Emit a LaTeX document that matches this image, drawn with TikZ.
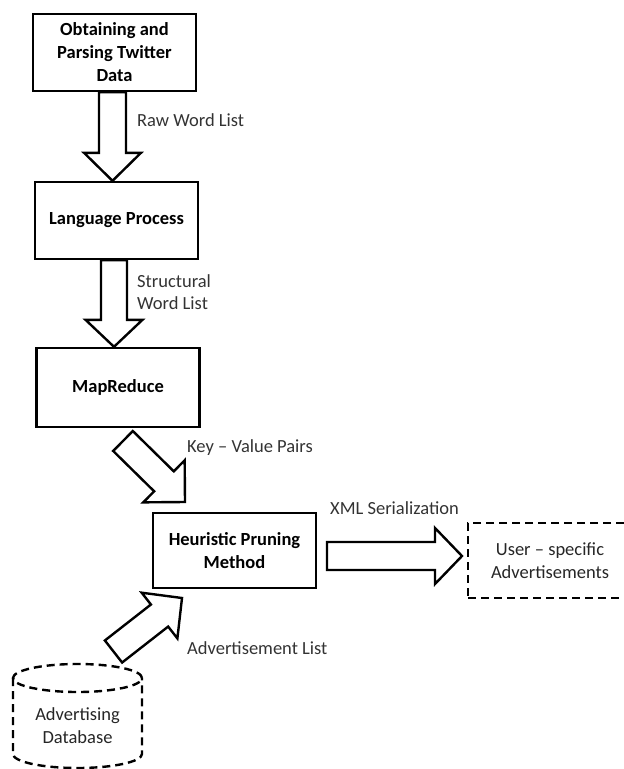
\documentclass[tikz,border=0pt]{standalone}
\usepackage{fontspec}
\setmainfont{Carlito}
\usetikzlibrary{calc}
\tikzset{
  box/.style={draw, line width=2.4pt, minimum width=163pt, minimum height=77pt, align=center,
    font=\bfseries\fontsize{18.5}{23}\selectfont, inner sep=0pt},
  lbl/.style={font=\fontsize{18.5}{22}\selectfont, text=black!80, align=left, inner sep=0pt, anchor=west},
  plain/.style={font=\fontsize{18.5}{23}\selectfont, text=black!85, align=center, inner sep=0pt},
  barrow/.style={draw, line width=2.4pt, line join=miter, fill=white},
  dashline/.style={line width=2.4pt, dash pattern=on 8pt off 5pt},
}
\newcommand{\barrowdraw}[5]{%
  \coordinate (hb) at ($(#2)!#5!(#1)$);
  \draw[barrow] (#2) -- ($(hb)!#4!90:(#2)$) -- ($(hb)!#3!90:(#2)$) -- ($(#1)!#3!90:(#2)$)
    -- ($(#1)!#3!-90:(#2)$) -- ($(hb)!#3!-90:(#2)$) -- ($(hb)!#4!-90:(#2)$) -- cycle;}
\begin{document}
\begin{tikzpicture}[x=1pt,y=-1pt]
\useasboundingbox (0,0) rectangle (624,769);
% boxes
\node[box] (b1) at (114.5,52.5) {Obtaining and\\Parsing Twitter\\Data};
\node[box] (b2) at (116.5,220.5) {Language Process};
\node[box, minimum height=79pt] (b3) at (118,387.5) {MapReduce};
\node[box, minimum height=75pt] (b4) at (234.5,550.5) {Heuristic Pruning\\Method};
\node[draw, dashline, plain, minimum width=164pt, minimum height=75pt] (ua) at (550,560.5) {User – specific\\Advertisements};
% database cylinder
\draw[dashline] (77.5,678) ellipse [x radius=64.5pt, y radius=14pt];
\draw[dashline] (13,678) -- (13,754) arc[start angle=180, end angle=360, x radius=64.5pt, y radius=14pt] -- (142,678);
\node[plain] (db) at (77.5,726) {Advertising\\Database};
% block arrows
\coordinate (t1) at ([xshift=-2pt]b1.south);
\coordinate (p1) at (t1 |- b2.north);
\barrowdraw{t1}{p1}{13.5pt}{28.5pt}{28pt}
\coordinate (t2) at ([xshift=-2.5pt]b2.south);
\coordinate (p2) at (t2 |- b3.north);
\barrowdraw{t2}{p2}{13pt}{28.5pt}{27pt}
\coordinate (t3) at (123,441);
\coordinate (p3) at (185,502);
\barrowdraw{t3}{p3}{14pt}{29.5pt}{29.5pt}
\coordinate (t5) at (327,556);
\coordinate (p5) at (462,556);
\barrowdraw{t5}{p5}{14pt}{28pt}{27pt}
\coordinate (t6) at (113.5,651.5);
\coordinate (p6) at (182,598);
\barrowdraw{t6}{p6}{14pt}{29pt}{28.5pt}
% labels
\node[lbl] (l1) at (137,120) {Raw Word List};
\node[lbl] (l2) at (137,292.5) {Structural\\Word List};
\node[lbl] (l3) at (187,448) {Key – Value Pairs};
\node[lbl] (l5) at (330,508) {XML Serialization};
\node[lbl] (l6) at (187,648) {Advertisement List};
\end{tikzpicture}
\end{document}
